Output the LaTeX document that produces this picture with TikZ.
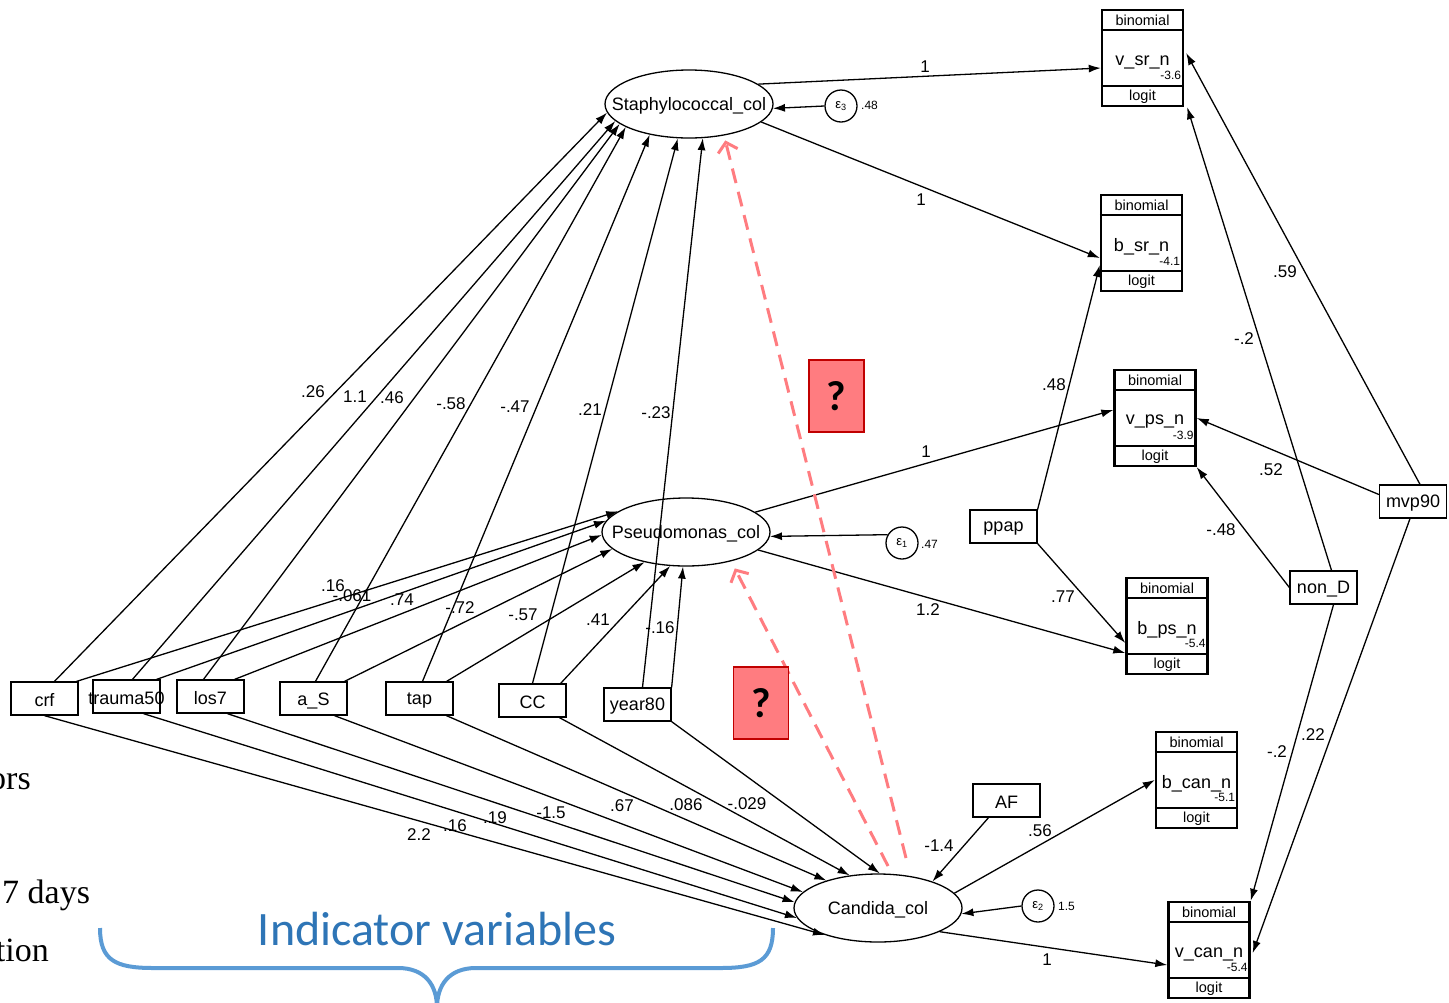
\documentclass[tikz,border=0pt]{standalone}
\usepackage{fontspec}
\setmainfont{Liberation Sans}
\newfontfamily\slidefont{Liberation Serif}
\newfontfamily\calfont{Carlito}
\usetikzlibrary{arrows.meta,shapes.geometric}
\definecolor{qred}{HTML}{FF7C80}
\definecolor{qedge}{HTML}{C00000}
\definecolor{bracecol}{HTML}{5B9BD5}
\definecolor{indtext}{HTML}{2E75B6}
\tikzset{
  latent/.style={draw, ellipse, line width=1.3pt, minimum width=168pt, minimum height=68pt, inner sep=0pt},
  obs/.style={draw, rectangle, line width=1.3pt, minimum width=67pt, minimum height=33pt, inner sep=0pt},
  err/.style={draw, circle, line width=1.3pt, minimum size=32pt, inner sep=0pt, font=\fontsize{13}{13}\selectfont},
  glm/.style={draw, rectangle, line width=2.4pt, minimum width=81pt, minimum height=96pt, inner sep=0pt},
  coef/.style={inner sep=0pt, font=\fontsize{17}{19}\selectfont},
  evar/.style={inner sep=0pt, anchor=west, font=\fontsize{12}{12}\selectfont},
  path/.style={line width=1.3pt, -{Latex[length=12pt,width=8pt]}},
  dashq/.style={draw=qred, line width=3pt, dash pattern=on 15pt off 9pt, -{Straight Barb[length=9pt,width=20pt,line width=3pt]}},
  qbox/.style={fill=qred, draw=qedge, line width=1.3pt, minimum width=55pt, minimum height=72pt, inner sep=0pt, font=\calfont\bfseries\fontsize{42}{42}\selectfont},
  every label/.style={inner sep=0pt, yshift=-2pt, font=\fontsize{18}{20}\selectfont}
}
% box with family on top, link at bottom
\newcommand{\glmbox}[5]{%
  \node[glm] (#1) at (#2,#3) {};
  \draw[line width=2.4pt] ([yshift=-21pt]#1.north west) -- ([yshift=-21pt]#1.north east);
  \draw[line width=2.4pt] ([yshift=21pt]#1.south west) -- ([yshift=21pt]#1.south east);
  \node[font=\fontsize{14.5}{15}\selectfont, inner sep=0pt] (#1-fam) at ([yshift=-11.5pt]#1.north) {binomial};
  \node[font=\fontsize{18}{19}\selectfont, inner sep=0pt] (#1-var) at ([yshift=-4pt]#1.center) {#4};
  \node[font=\fontsize{12}{12}\selectfont, inner sep=0pt, anchor=south east] (#1-con) at ([xshift=-3pt,yshift=27pt]#1.south east) {#5};
  \node[font=\fontsize{14.5}{15}\selectfont, inner sep=0pt] (#1-lnk) at ([yshift=10pt]#1.south) {logit};
}
\begin{document}
\begin{tikzpicture}[x=1pt,y=-1pt]
\useasboundingbox (0,0) rectangle (1449,1002);
%	latent variables
	\node[latent, label=center:Staphylococcal\_col] (staph) at (689,104) {};
	\node[latent, label=center:Pseudomonas\_col] (pseudo) at (686,532) {};
	\node[latent, label=center:Candida\_col] (candida) at (878,908) {};
	\node[err] (eps3) at (841,106) {ε\textsubscript{3}};
	\node[err] (eps1) at (902,543) {ε\textsubscript{1}};
	\node[err] (eps2) at (1038,906) {ε\textsubscript{2}};
	\node[evar] (v3) at (861,105) {.48};
	\node[evar] (v1) at (921,544) {.47};
	\node[evar] (v2) at (1058,906) {1.5};
%	predictors
	\node[obs, label=center:crf] (crf) at (44.5,698.5) {};
	\node[obs, label=center:trauma50] (trauma) at (126.5,696.5) {};
	\node[obs, label=center:los7] (los) at (210.5,696.5) {};
	\node[obs, label=center:a\_S] (as) at (313.5,698.5) {};
	\node[obs, label=center:tap] (tap) at (419.5,698.5) {};
	\node[obs, label=center:CC] (cc) at (532.5,700.5) {};
	\node[obs, label=center:year80] (year) at (637.5,704.5) {};
	\node[obs, label=center:ppap] (ppap) at (1003.5,526.5) {};
	\node[obs, label=center:AF] (af) at (1006.5,800.5) {};
	\node[obs, label=center:non\_D] (nond) at (1323.5,587.5) {};
	\node[obs, label=center:mvp90] (mvp) at (1413,501.5) {};
%	outcomes
	\glmbox{vsrn}{1142.5}{58}{v\_sr\_n}{-3.6}
	\glmbox{bsrn}{1141.5}{243}{b\_sr\_n}{-4.1}
	\glmbox{vpsn}{1155}{418}{v\_ps\_n}{-3.9}
	\glmbox{bpsn}{1167}{626}{b\_ps\_n}{-5.4}
	\glmbox{bcann}{1196.5}{780}{b\_can\_n}{-5.1}
	\glmbox{vcann}{1209}{950}{v\_can\_n}{-5.4}
%	predictors -> Staphylococcal_col
	\draw[path] ([xshift=10pt]crf.north) -- (staph.186);
	\draw[path] ([xshift=6pt]trauma.north) -- (staph.193);
	\draw[path] ([xshift=-7pt]los.north) -- (staph.196);
	\draw[path] ([xshift=2pt]as.north) -- (staph.200);
	\draw[path] ([xshift=3pt]tap.north) -- (staph.218);
	\draw[path] (cc.north) -- (staph.252);
	\draw[path] ([xshift=5pt]year.north) -- (staph.292);
	\node[coef] (s1) at (313,392) {.26};
	\node[coef] (s2) at (355,397) {1.1};
	\node[coef] (s3) at (392,398) {.46};
	\node[coef] (s4) at (451,404) {-.58};
	\node[coef] (s5) at (515,407) {-.47};
	\node[coef] (s6) at (590,410) {.21};
	\node[coef] (s7) at (656,413) {-.23};
%	predictors -> Pseudomonas_col
	\draw[path] ([xshift=-2pt]crf.north east) -- (pseudo.163);
	\draw[path] ([xshift=-4pt]trauma.north east) -- (pseudo.172);
	\draw[path] ([xshift=-10pt]los.north east) -- (pseudo.182);
	\draw[path] ([xshift=-3pt]as.north east) -- (pseudo.193);
	\draw[path] ([xshift=-7pt]tap.north east) -- (pseudo.216);
	\draw[path] ([xshift=-6pt]cc.north east) -- (pseudo.245);
	\draw[path] (year.north east) -- (pseudo.265);
	\node[coef] (p1) at (333,586) {.16};
	\node[coef] (p2) at (352,596) {-.061};
	\node[coef] (p3) at (402,600) {.74};
	\node[coef] (p4) at (460,608) {-.72};
	\node[coef] (p5) at (523,615) {-.57};
	\node[coef] (p6) at (598,620) {.41};
	\node[coef] (p7) at (660,628) {-.16};
%	predictors -> Candida_col
	\draw[path] (crf.south) -- (candida.207);
	\draw[path] ([xshift=17pt]trauma.south) -- (candida.187);
	\draw[path] ([xshift=17pt]los.south) -- (candida.176);
	\draw[path] ([xshift=21pt]as.south) -- (candida.168);
	\draw[path] ([xshift=27pt]tap.south) -- (candida.152);
	\draw[path] ([xshift=27pt]cc.south) -- (candida.131);
	\draw[path] (year.south east) -- (candida.87);
	\node[coef] (c1) at (419,835) {2.2};
	\node[coef] (c2) at (455,826) {.16};
	\node[coef] (c3) at (495,818) {.19};
	\node[coef] (c4) at (551,813) {-1.5};
	\node[coef] (c5) at (622,806) {.67};
	\node[coef] (c6) at (686,805) {.086};
	\node[coef] (c7) at (747,804) {-.029};
%	measurement part
	\draw[path] (staph.16) -- ([yshift=-10pt]vsrn.west);
	\draw[path] (staph.346) -- ([yshift=-15pt]bsrn.west);
	\draw[path] (eps3.west) -- (staph.357);
	\draw[path] (pseudo.16) -- ([yshift=8pt]vpsn.west);
	\draw[path] (pseudo.346) -- ([yshift=-27pt]bpsn.west);
	\draw[path] (eps1.150) -- (pseudo.357);
	\draw[path] (candida.11) -- (bcann.west);
	\draw[path] (candida.339) -- ([yshift=-15pt]vcann.west);
	\draw[path] (eps2.west) -- (candida.356);
	\draw[path] ([xshift=-18pt]af.south) -- (candida.26);
	\draw[path] (ppap.north east) -- ([yshift=-22pt]bsrn.west);
	\draw[path] (ppap.south east) -- ([yshift=-17pt]bpsn.west);
	\draw[path] ([xshift=8pt]nond.north) -- ([xshift=3pt]vsrn.south east);
	\draw[path] (nond.west) -- (vpsn.south east);
	\draw[path] ([xshift=10pt]nond.south) -- (vcann.north east);
	\draw[path] ([xshift=7pt]mvp.north) -- ([xshift=2pt,yshift=5pt]vsrn.east);
	\draw[path] ([yshift=7pt]mvp.west) -- (vpsn.east);
	\draw[path] ([xshift=-3pt]mvp.south) -- ([xshift=2pt,yshift=-3pt]vcann.east);
	\node[coef] (r1) at (925,67) {1};
	\node[coef] (r2) at (921,200) {1};
	\node[coef] (r3) at (926,452) {1};
	\node[coef] (r4) at (928,610) {1.2};
	\node[coef] (r5) at (1040,831) {.56};
	\node[coef] (r6) at (1047,960) {1};
	\node[coef] (r7) at (939,846) {-1.4};
	\node[coef] (r8) at (1054,385) {.48};
	\node[coef] (r9) at (1063,597) {.77};
	\node[coef] (r10) at (1244,339) {-.2};
	\node[coef] (r11) at (1285,272) {.59};
	\node[coef] (r12) at (1271,470) {.52};
	\node[coef] (r13) at (1221,530) {-.48};
	\node[coef] (r14) at (1277,752) {-.2};
	\node[coef] (r15) at (1313,735) {.22};
%	open questions
	\coordinate (qa) at (906,858);
	\coordinate (qb) at (888,866);
	\draw[dashq, shorten >=5pt] (qa) -- (staph.318);
	\draw[dashq, shorten >=8pt] (qb) -- (pseudo.327);
	\node[qbox] (q1) at (836.5,396) {?};
	\node[qbox] (q2) at (761,703) {?};
%	slide remnants
	\node[anchor=base east, inner sep=0pt, font=\slidefont\fontsize{34}{36}\selectfont] (t1) at (31,789) {ors};
	\node[anchor=base west, inner sep=0pt, font=\slidefont\fontsize{34}{36}\selectfont] (t2) at (2,903) {7 days};
	\node[anchor=base east, inner sep=0pt, font=\slidefont\fontsize{34}{36}\selectfont] (t3) at (49,961) {tion};
	\draw[bracecol, line width=4pt] (100,928) .. controls (100,960) and (115,968) .. (153,968) -- (398,968)
		.. controls (425,968) and (437,985) .. (437,1008)
		.. controls (437,985) and (449,968) .. (476,968) -- (721,968)
		.. controls (759,968) and (773,960) .. (773,928);
	\node[anchor=base, inner sep=0pt, text=indtext, font=\calfont\fontsize{48}{50}\selectfont] (ind) at (437,945) {Indicator variables};
\end{tikzpicture}
\end{document}
